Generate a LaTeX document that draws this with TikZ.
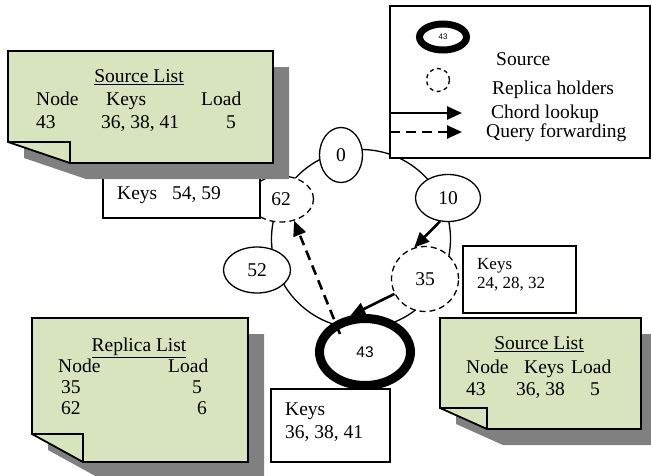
\documentclass[tikz,border=0pt]{standalone}
\usepackage{fontspec}
\setmainfont{Liberation Serif}
\newfontfamily\arialfont{Liberation Sans}
\usetikzlibrary{shapes.geometric,arrows.meta}
\definecolor{notegreen}{HTML}{D7E4BD}
\definecolor{noteshadow}{HTML}{808080}

\tikzset{
  txt/.style={font=\fontsize{19.5}{22}\selectfont, inner sep=0pt, anchor=base west},
  smalltxt/.style={font=\fontsize{17}{20}\selectfont, inner sep=0pt, anchor=base west},
  peer/.style={ellipse, draw, fill=white, line width=1.3pt, inner sep=0pt,
    font=\fontsize{19.5}{22}\selectfont},
  replica/.style={peer, dash pattern=on 6pt off 4pt},
  source/.style={ellipse, draw, fill=white, line width=9pt, inner sep=0pt,
    font=\arialfont\fontsize{15.5}{18}\selectfont},
  keybox/.style={rectangle, draw, fill=white, line width=1.8pt, inner sep=0pt},
  lookup/.style={line width=2.6pt, -{Triangle[length=15pt,width=13pt]}},
  forward/.style={lookup, dash pattern=on 10pt off 6pt},
  notebody/.style={fill=notegreen, draw=black, line width=1.8pt, line join=miter},
  notesh/.style={fill=noteshadow},
}

% sticky note: left, top, right, bottom, fold x, fold y, shadow offset
\newcommand\notesheet[7]{%
  \fill[notesh] (#1+#7,#2+#7) -- (#3+#7,#2+#7) -- (#3+#7,#4+#7) -- (#5+#7,#4+#7) -- (#1+#7,#6+#7) -- cycle;
  \draw[notebody] (#1,#2) -- (#3,#2) -- (#3,#4) -- (#5,#4) -- (#1,#6) -- cycle;
  \draw[notebody, fill=none] (#1,#6) -- (#5,#6) -- (#5,#4);
}

\begin{document}
\begin{tikzpicture}[x=1pt, y=-1pt]
\useasboundingbox (0,0) rectangle (651,475);

% Chord ring
\node[circle, draw, line width=1.3pt, minimum size=179pt, inner sep=0pt] (ring) at (361,239) {};

% peers on the ring
\node[peer, minimum width=43pt, minimum height=55pt] (n0) at (341,155) {0};
\node[peer, minimum width=65pt, minimum height=47pt] (n10) at (448,198) {10};
\node[replica, minimum width=65pt, minimum height=46pt] (n62) at (281,199) {62};
\node[peer, minimum width=67pt, minimum height=46pt] (n52) at (257,270) {52};
\node[replica, minimum width=67pt, minimum height=65pt] (n35) at (425,279) {35};
\node[source, minimum width=91pt, minimum height=67pt] (n43) at (365,352) {43};

% lookups and forwarding
\coordinate (q0) at (340,334);
\draw[lookup] (n10.251.6) -- (n35.109);
\draw[lookup] (n35.206.6) -- (n43.112);
\draw[forward] (q0) -- (n62.301);

% keys held by 62
\node[keybox, minimum width=157pt, minimum height=48pt] (k62) at (181.5,194) {};
\node[txt] (k62a) at (117,199.5) {Keys};
\node[txt] (k62b) at (172,199.5) {54, 59};

% source list at the top left
\notesheet{8}{51}{273}{163}{70}{142}{16}
\node[txt, anchor=base] (sl1t) at (139,82.5) {\underline{Source List}};
\node[txt] (sl1a) at (36,105.5) {Node};
\node[txt] (sl1b) at (106,105.5) {Keys};
\node[txt] (sl1c) at (201,105.5) {Load};
\node[txt] (sl1d) at (36,128.5) {43};
\node[txt] (sl1e) at (101,128.5) {36, 38, 41};
\node[txt] (sl1f) at (226,128.5) {5};

% keys held by 35
\node[keybox, minimum width=113pt, minimum height=67pt] (k35) at (519.5,279.5) {};
\node[smalltxt] (k35a) at (477,269.6) {Keys};
\node[smalltxt] (k35b) at (477,288.6) {24, 28, 32};

% keys of the source
\node[keybox, minimum width=119pt, minimum height=73pt] (k43) at (330.5,425.5) {};
\node[txt] (k43a) at (285,415.5) {Keys};
\node[txt] (k43b) at (285,438.5) {36, 38, 41};

% replica list
\notesheet{32}{318}{248}{462}{83}{434}{16}
\node[txt, anchor=base] (rlt) at (139,351.5) {\underline{Replica List}};
\node[txt] (rla) at (58,372.5) {Node};
\node[txt] (rlb) at (168,372.5) {Load};
\node[txt] (rlc) at (61,393.5) {35};
\node[txt, anchor=base east] (rld) at (202,393.5) {5};
\node[txt] (rle) at (61,414.5) {62};
\node[txt, anchor=base east] (rlf) at (207,414.5) {6};

% source list at the bottom right
\notesheet{440}{318}{641}{429}{487}{408}{16}
\node[txt, anchor=base] (sl2t) at (539,349.5) {\underline{Source List}};
\node[txt] (sl2a) at (466,373.5) {Node};
\node[txt] (sl2b) at (524,373.5) {Keys};
\node[txt] (sl2c) at (571,373.5) {Load};
\node[txt] (sl2d) at (466,395.5) {43};
\node[txt] (sl2e) at (516,395.5) {36, 38};
\node[txt] (sl2f) at (590,395.5) {5};

% legend
\node[keybox, minimum width=260pt, minimum height=152pt] (legend) at (520,82) {};
\node[source, line width=7pt, minimum width=47pt, minimum height=26pt,
  font=\arialfont\fontsize{8}{9}\selectfont] (lgsrc) at (443,37) {43};
\node[txt] (lgsrct) at (496,65.5) {Source};
\node[circle, draw, line width=1.3pt, dash pattern=on 4pt off 3.5pt,
  minimum size=23pt, inner sep=0pt] (lgrep) at (438,80) {};
\node[txt] (lgrept) at (492,94.5) {Replica holders};
\coordinate (lgA1) at (390,113);
\coordinate (lgA2) at (462,113);
\draw[lookup] (lgA1) -- (lgA2);
\node[txt] (lgAt) at (491,118.5) {Chord lookup};
\coordinate (lgB1) at (390,132);
\coordinate (lgB2) at (462,132);
\draw[forward] (lgB1) -- (lgB2);
\node[txt] (lgBt) at (486,137.5) {Query forwarding};
\end{tikzpicture}
\end{document}
